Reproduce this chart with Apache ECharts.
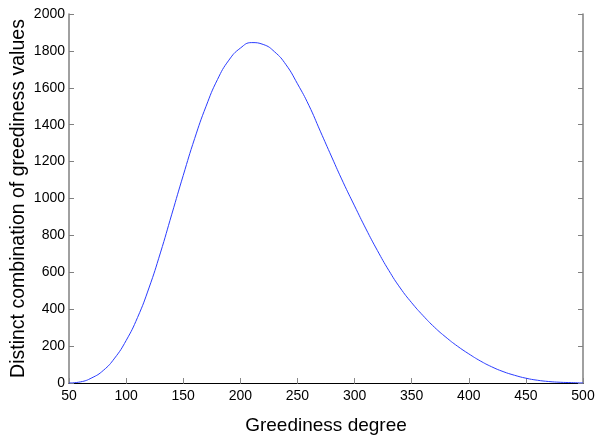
<!DOCTYPE html>
<html>
<head>
<meta charset="utf-8">
<script src="https://cdn.jsdelivr.net/npm/echarts@6/dist/echarts.min.js"></script>
<style>
  html, body { margin: 0; padding: 0; background: #fff; }
  #chart { width: 596px; height: 436px; }
</style>
</head>
<body>
<div id="chart"></div>
<script>
// Greediness degree (x) against the count of distinct greediness combinations (y)
const degrees = [50, 60, 70, 80, 90, 100, 110, 120, 130, 140, 150, 160, 170, 180, 190,
  200, 210, 220, 230, 240, 250, 260, 270, 280, 290, 300, 310, 320, 330, 340, 350,
  360, 370, 380, 390, 400, 410, 420, 430, 440, 450, 460, 470, 480, 490, 500];
const combinations = [0, 6, 28, 68, 135, 230, 355, 515, 705, 915, 1125, 1325, 1500, 1645, 1750,
  1815, 1845, 1835, 1795, 1725, 1622, 1505, 1365, 1225, 1088, 960, 835, 718, 610, 515, 435,
  365, 302, 248, 200, 158, 120, 88, 62, 42, 26, 15, 8, 4, 2, 0];

const xTicks = { min: 50, max: 500, interval: 50 };
const yTicks = { min: 0, max: 2000, interval: 200 };

const xTitle = 'Greediness degree';
const yTitle = 'Distinct combination of greediness values';

const font = 'Liberation Sans, Arial, Helvetica, sans-serif';
const plain = v => String(v);

const chart = echarts.init(document.getElementById('chart'), null, { renderer: 'canvas' });

chart.setOption({
  animation: false,
  backgroundColor: '#ffffff',
  grid: { left: 69, right: 13, top: 14, bottom: 53, containLabel: false, outerBoundsMode: 'none' },
  xAxis: [
    {
      type: 'value', position: 'bottom',
      min: xTicks.min, max: xTicks.max, interval: xTicks.interval,
      name: xTitle, nameLocation: 'middle', nameGap: 33, nameMoveOverlap: false,
      nameTextStyle: { fontFamily: font, fontSize: 19, color: '#000' },
      axisLine: { show: true, onZero: false, lineStyle: { color: '#000', width: 1 } },
      axisTick: { show: true, inside: true, length: 5, lineStyle: { color: '#888' } },
      axisLabel: { fontFamily: font, fontSize: 14, color: '#000', margin: 6, formatter: plain },
      splitLine: { show: false }
    },
    {
      type: 'value', position: 'top',
      min: xTicks.min, max: xTicks.max, interval: xTicks.interval,
      axisLine: { show: false },
      axisTick: { show: true, inside: true, length: 1, lineStyle: { color: '#666' } },
      axisLabel: { show: false },
      splitLine: { show: false }
    }
  ],
  yAxis: [
    {
      type: 'value', position: 'left',
      min: yTicks.min, max: yTicks.max, interval: yTicks.interval,
      name: yTitle, nameLocation: 'middle', nameGap: 40, nameMoveOverlap: false,
      nameTextStyle: { fontFamily: font, fontSize: 19.5, color: '#000' },
      axisLine: { show: true, lineStyle: { color: '#808080', width: 1.5 } },
      axisTick: { show: true, inside: true, length: 5, lineStyle: { color: '#808080' } },
      axisLabel: { fontFamily: font, fontSize: 14, color: '#000', margin: 4, formatter: plain },
      splitLine: { show: false }
    },
    {
      type: 'value', position: 'right',
      min: yTicks.min, max: yTicks.max, interval: yTicks.interval,
      axisLine: { show: true, lineStyle: { color: '#808080', width: 1.5 } },
      axisTick: { show: true, inside: true, length: 5, lineStyle: { color: '#808080' } },
      axisLabel: { show: false },
      splitLine: { show: false }
    }
  ],
  series: [{
    type: 'line',
    xAxisIndex: 0, yAxisIndex: 0,
    data: degrees.map((d, i) => [d, combinations[i]]),
    smooth: 0.5,
    showSymbol: false,
    lineStyle: { color: '#2a3cff', width: 1 },
    z: 3
  }]
});
</script>
</body>
</html>
